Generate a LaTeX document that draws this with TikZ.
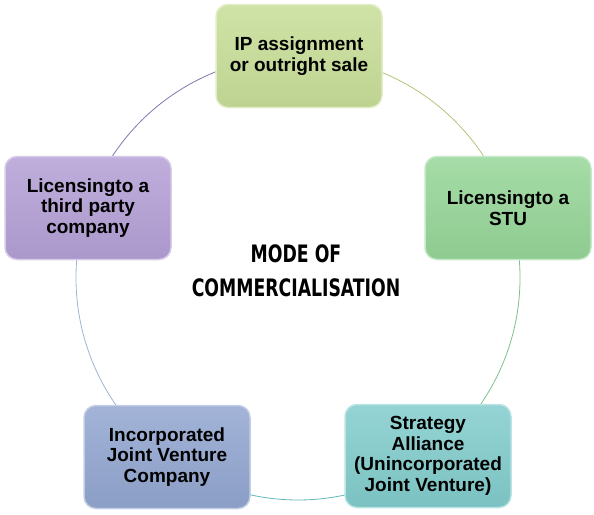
\documentclass[tikz,border=0pt]{standalone}
\usepackage{fontspec}
\setmainfont{Liberation Sans}
\newfontfamily\condfont{DejaVu Sans Condensed}[FakeStretch=0.8]
\usetikzlibrary{calc}
\definecolor{gA}{RGB}{200,222,152}
\definecolor{gB}{RGB}{150,214,152}
\definecolor{gC}{RGB}{130,204,204}
\definecolor{gD}{RGB}{146,166,208}
\definecolor{gE}{RGB}{180,160,214}
\tikzset{
  modebox/.style={rounded corners=12pt, minimum width=166pt, minimum height=103pt,
    align=center, font=\fontsize{19}{20.5}\selectfont\bfseries, text=black,
    line width=1.5pt},
  ring/.style={line width=0.8pt}
}
\begin{document}
\begin{tikzpicture}[x=1pt,y=-1pt]
\useasboundingbox (0,0) rectangle (594,514);
\coordinate (c) at (298,278);
\def\R{222}
\draw[ring, color={rgb,255:red,176;green,198;blue,120}] ($(c)+(-90:\R)$) arc[start angle=-90, end angle=-18, radius=\R];
\draw[ring, color={rgb,255:red,130;green,190;blue,140}] ($(c)+(-18:\R)$) arc[start angle=-18, end angle=54, radius=\R];
\draw[ring, color={rgb,255:red,100;green,184;blue,186}] ($(c)+(54:\R)$) arc[start angle=54, end angle=126, radius=\R];
\draw[ring, color={rgb,255:red,160;green,180;blue,212}] ($(c)+(126:\R)$) arc[start angle=126, end angle=198, radius=\R];
\draw[ring, color={rgb,255:red,130;green,118;blue,176}] ($(c)+(198:\R)$) arc[start angle=198, end angle=270, radius=\R];
\node[modebox, top color=gA!85!white, bottom color=gA!95!black, draw=gA!55!white] (ip) at (299,56) {IP assignment\\or outright sale};
\node[modebox, top color=gB!85!white, bottom color=gB!95!black, draw=gB!55!white] (stu) at (508,208) {Licensingto a\\STU};
\node[modebox, top color=gC!85!white, bottom color=gC!95!black, draw=gC!55!white] (sa) at (428,456) {Strategy\\Alliance\\(Unincorporated\\Joint Venture)};
\node[modebox, top color=gD!85!white, bottom color=gD!95!black, draw=gD!55!white] (ijv) at (167,457) {Incorporated\\Joint Venture\\Company};
\node[modebox, top color=gE!85!white, bottom color=gE!95!black, draw=gE!55!white] (tp) at (88,208) {Licensingto a\\third party\\company};
\node[align=center, font=\condfont\bfseries\fontsize{24}{34}\selectfont] (mode) at (296,271) {MODE OF\\COMMERCIALISATION};
\end{tikzpicture}
\end{document}
